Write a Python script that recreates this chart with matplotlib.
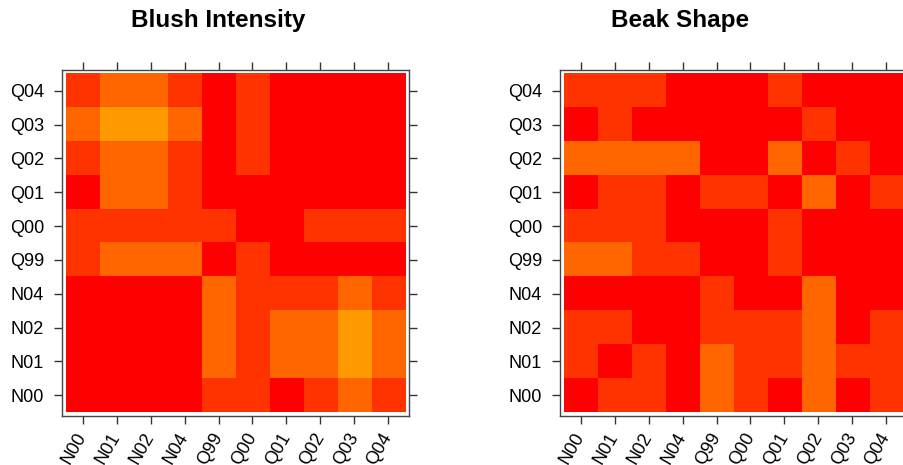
import matplotlib
matplotlib.use("Agg")
import matplotlib.pyplot as plt
from matplotlib.colors import ListedColormap
import numpy as np

plt.rcParams['font.family'] = ['Liberation Sans', 'DejaVu Sans']

cols = ["N00", "N01", "N02", "N04", "Q99", "Q00", "Q01", "Q02", "Q03", "Q04"]
rows = ["Q04", "Q03", "Q02", "Q01", "Q00", "Q99", "N04", "N02", "N01", "N00"]  # top to bottom

blush = [
    [1, 2, 2, 1, 0, 1, 0, 0, 0, 0],
    [2, 3, 3, 2, 0, 1, 0, 0, 0, 0],
    [1, 2, 2, 1, 0, 1, 0, 0, 0, 0],
    [0, 2, 2, 1, 0, 0, 0, 0, 0, 0],
    [1, 1, 1, 1, 1, 0, 0, 1, 1, 1],
    [1, 2, 2, 2, 0, 1, 0, 0, 0, 0],
    [0, 0, 0, 0, 2, 1, 1, 1, 2, 1],
    [0, 0, 0, 0, 2, 1, 2, 2, 3, 2],
    [0, 0, 0, 0, 2, 1, 2, 2, 3, 2],
    [0, 0, 0, 0, 1, 1, 0, 1, 2, 1],
]

beak = [
    [1, 1, 1, 0, 0, 0, 1, 0, 0, 0],
    [0, 1, 0, 0, 0, 0, 0, 1, 0, 0],
    [2, 2, 2, 2, 0, 0, 2, 0, 1, 0],
    [0, 1, 1, 0, 1, 1, 0, 2, 0, 1],
    [1, 1, 1, 0, 0, 0, 1, 0, 0, 0],
    [2, 2, 1, 1, 0, 0, 1, 0, 0, 0],
    [0, 0, 0, 0, 1, 0, 0, 2, 0, 0],
    [1, 1, 0, 0, 1, 1, 1, 2, 0, 1],
    [1, 0, 1, 0, 2, 1, 1, 2, 1, 1],
    [0, 1, 1, 0, 2, 1, 0, 2, 0, 1],
]

titles = ["Blush Intensity", "Beak Shape"]
palette = ["#FF0000", "#FF3300", "#FF6600", "#FF9900"]
cmap = ListedColormap(palette)

W, H = 904, 465
fig = plt.figure(figsize=(W / 100, H / 100), dpi=100)

# box positions in pixels: left, top, width, height
boxes = [(62, 70, 347, 346), (560, 70, 347, 346)]
title_x = [218, 680]

for data, title, (bl, bt, bw, bh), tx in zip([blush, beak], titles, boxes, title_x):
    ax = fig.add_axes([bl / W, 1 - (bt + bh) / H, bw / W, bh / H])
    arr = np.array(data)
    n = len(cols)
    ax.imshow(arr, cmap=cmap, vmin=-0.5, vmax=len(palette) - 0.5, aspect='auto',
              interpolation='nearest', extent=(-0.5, n - 0.5, len(rows) - 0.5, -0.5))
    pad = 0.11
    ax.set_xlim(-0.5 - pad, n - 0.5 + pad)
    ax.set_ylim(len(rows) - 0.5 + pad, -0.5 - pad)
    ax.set_xticks(range(n))
    ax.set_xticklabels(cols, rotation=60, ha='right', va='center', rotation_mode='anchor')
    ax.set_yticks(range(len(rows)))
    ax.set_yticklabels(rows)
    ax.tick_params(direction='out', length=6, width=1, color='#333333',
                   top=True, right=True, labeltop=False, labelright=False,
                   labelsize=13, pad=7)
    for s in ax.spines.values():
        s.set_color('#444444')
        s.set_linewidth(1.0)
    fig.text(tx / W, 1 - 27 / H, title, ha='center', va='baseline',
             fontsize=17.5, fontweight='bold')

fig.savefig("out.png", dpi=100)
